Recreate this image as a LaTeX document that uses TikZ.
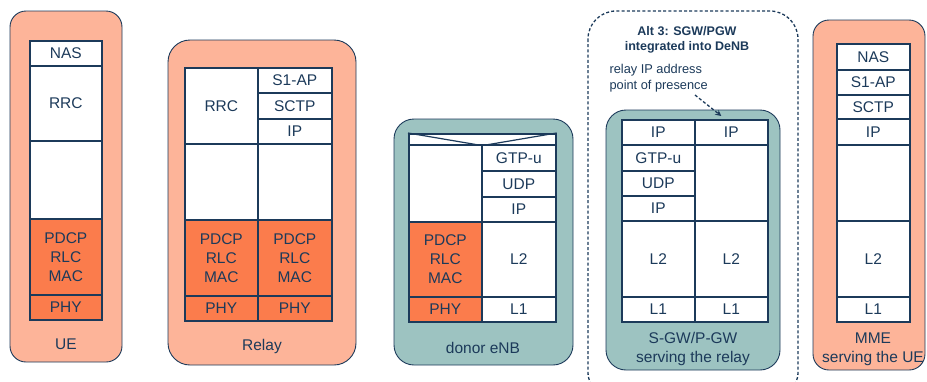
\documentclass[tikz,border=0pt]{standalone}
\usepackage{fontspec}
\setmainfont{Liberation Sans}
\usetikzlibrary{arrows.meta}
\definecolor{navy}{HTML}{1C3A5A}
\definecolor{salmon}{HTML}{FDB499}
\definecolor{orng}{HTML}{FB7C4C}
\definecolor{teal2}{HTML}{9DC3C1}
\newcommand\layer[7]{\node[cell,#6,anchor=north west,minimum width={(#4-#2)*1pt},minimum height={(#5-#3)*1pt}] (#1) at (#2,#3) {#7};}
\begin{document}
\begin{tikzpicture}[x=1pt,y=-1pt,
  every node/.style={text=navy,font=\fontsize{15.5}{19}\selectfont},
  cell/.style={draw=navy,line width=1.6pt,inner sep=0pt,align=center},
  wh/.style={fill=white},
  og/.style={fill=orng},
  boxS/.style={draw=navy,line width=0.9pt,fill=salmon},
  boxT/.style={draw=navy,line width=0.9pt,fill=teal2},
  dsh/.style={draw=navy,line width=1.3pt,dash pattern=on 3pt off 2.2pt},
  lbl/.style={align=center}]
\useasboundingbox (0,0) rectangle (927,381);
% UE
\draw[boxS,rounded corners=16pt] (10,11) rectangle (122,362);
\layer{ue1}{29}{40}{101}{65}{wh}{NAS}
\layer{ue2}{29}{65}{101}{140}{wh}{RRC}
\layer{ue3}{29}{140}{101}{218}{wh}{}
\layer{ue4}{29}{218}{101}{294}{og}{PDCP\\RLC\\MAC}
\layer{ue5}{29}{294}{101}{319}{og}{PHY}
\node[lbl] (uel) at (66,344) {UE};
% Relay
\draw[boxS,rounded corners=22pt] (168,40) rectangle (356,365);
\layer{r1}{184}{67}{257}{143}{wh}{RRC}
\layer{r2}{184}{143}{257}{219}{wh}{}
\layer{r3}{184}{219}{257}{295}{og}{PDCP\\RLC\\MAC}
\layer{r4}{184}{295}{257}{320}{og}{PHY}
\layer{r5}{257}{67}{331}{92}{wh}{S1-AP}
\layer{r6}{257}{92}{331}{118}{wh}{SCTP}
\layer{r7}{257}{118}{331}{143}{wh}{IP}
\layer{r8}{257}{143}{331}{219}{wh}{}
\layer{r9}{257}{219}{331}{295}{og}{PDCP\\RLC\\MAC}
\layer{r10}{257}{295}{331}{320}{og}{PHY}
\node[lbl] (rl) at (262,346) {Relay};
% donor eNB
\draw[boxT,rounded corners=20pt] (394,119) rectangle (573,365);
\layer{d0}{408}{133}{555}{144}{wh}{}
\draw[navy,line width=1.2pt] (d0.north west) -- (d0.south) -- (d0.north east);
\layer{d1}{408}{144}{481}{221}{wh}{}
\layer{d2}{408}{221}{481}{296}{og}{PDCP\\RLC\\MAC}
\layer{d3}{408}{296}{481}{321}{og}{PHY}
\layer{d4}{481}{144}{555}{170}{wh}{GTP-u}
\layer{d5}{481}{170}{555}{196}{wh}{UDP}
\layer{d6}{481}{196}{555}{221}{wh}{IP}
\layer{d7}{481}{221}{555}{296}{wh}{L2}
\layer{d8}{481}{296}{555}{321}{wh}{L1}
\node[lbl] (dl) at (483,348) {donor eNB};
% S-GW/P-GW
\draw[dsh,rounded corners=28pt] (588,11) rectangle (798,400);
\node[lbl,font=\fontsize{12.5}{15}\selectfont\bfseries] (alt) at (687,40) {Alt 3: SGW/PGW\\integrated into DeNB};
\node[align=left,anchor=west,font=\fontsize{12.8}{16}\selectfont] (pop) at (606,78) {relay IP address\\point of presence};
\draw[boxT,rounded corners=20pt] (606,110) rectangle (780,370);
\layer{s1}{621}{119}{694}{144}{wh}{IP}
\layer{s2}{621}{144}{694}{170}{wh}{GTP-u}
\layer{s3}{621}{170}{694}{195}{wh}{UDP}
\layer{s4}{621}{195}{694}{220}{wh}{IP}
\layer{s5}{621}{220}{694}{296}{wh}{L2}
\layer{s6}{621}{296}{694}{321}{wh}{L1}
\layer{s7}{694}{119}{767}{144}{wh}{IP}
\layer{s8}{694}{144}{767}{220}{wh}{}
\layer{s9}{694}{220}{767}{296}{wh}{L2}
\layer{s10}{694}{296}{767}{321}{wh}{L1}
\node[lbl] (sl) at (693,349) {S-GW/P-GW\\serving the relay};
\coordinate (popend) at (695,95);
\draw[dsh,-{Stealth[length=6pt,width=6pt]}] (popend) -- ([xshift=-10pt,yshift=3pt]s7.north);
% MME
\draw[boxS,rounded corners=16pt] (813,20) rectangle (925,370);
\layer{m1}{836}{43}{909}{69}{wh}{NAS}
\layer{m2}{836}{69}{909}{94}{wh}{S1-AP}
\layer{m3}{836}{94}{909}{118}{wh}{SCTP}
\layer{m4}{836}{118}{909}{144}{wh}{IP}
\layer{m5}{836}{144}{909}{220}{wh}{}
\layer{m6}{836}{220}{909}{296}{wh}{L2}
\layer{m7}{836}{296}{909}{321}{wh}{L1}
\node[lbl] (ml) at (873,349) {MME\\serving the UE};
\end{tikzpicture}
\end{document}
